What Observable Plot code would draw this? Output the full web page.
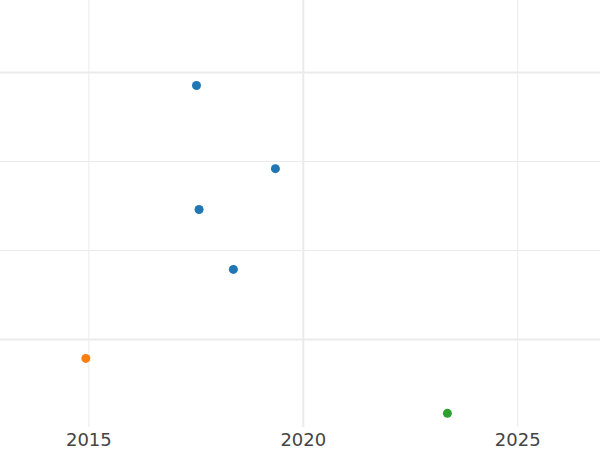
<!DOCTYPE html>
<html>
<head>
<meta charset="utf-8">
<script src="https://cdn.jsdelivr.net/npm/d3@7"></script>
<script src="https://cdn.jsdelivr.net/npm/@observablehq/plot@0.6"></script>
<style>
  html, body { margin: 0; padding: 0; background: #fff; }
  svg { display: block; }
</style>
</head>
<body>
<div id="chart"></div>
<script>
const groups = ["A", "A", "A", "A", "B", "C"];
const years = [2017.51, 2019.35, 2017.57, 2018.37, 2014.93, 2023.36];
const values = [3.854, 2.92, 2.461, 1.787, 0.787, 0.169];
const groupColors = ["#1f77b4", "#ff7f0e", "#2ca02c"];
const xTicks = [2015, 2020, 2025];
const xMajorGrid = [2020];
const xMinorGrid = [2015, 2025];
const yMajorGrid = [1, 4];
const yMinorGrid = [2, 3];

const data = years.map((y, i) => ({ year: y, value: values[i], group: groups[i] }));

const chart = Plot.plot({
  width: 600,
  height: 450,
  marginLeft: 0,
  marginRight: 0,
  marginTop: 0,
  marginBottom: 23,
  style: { fontFamily: "DejaVu Sans", fontSize: "18px", color: "#444", background: "#fff" },
  x: { domain: [2012.94, 2026.93], ticks: xTicks, tickFormat: d => String(d), tickSize: 0, tickPadding: 4, label: null },
  y: { domain: [0.01, 4.81], axis: null },
  color: { domain: ["A", "B", "C"], range: groupColors },
  marks: [
    Plot.ruleY(yMinorGrid, { stroke: "#ebebeb", strokeWidth: 1, strokeOpacity: 1 }),
    Plot.ruleX(xMinorGrid, { stroke: "#ebebeb", strokeWidth: 1, strokeOpacity: 1 }),
    Plot.ruleY(yMajorGrid, { stroke: "#ebebeb", strokeWidth: 2, strokeOpacity: 1 }),
    Plot.ruleX(xMajorGrid, { stroke: "#ebebeb", strokeWidth: 2, strokeOpacity: 1 }),
    Plot.axisX({ ticks: xTicks, tickFormat: d => String(d), tickSize: 0, tickPadding: 6, label: null, fill: "#444" }),
    Plot.dot(data, { x: "year", y: "value", fill: "group", r: 4.5, stroke: null })
  ]
});
document.getElementById("chart").append(chart);
</script>
</body>
</html>
